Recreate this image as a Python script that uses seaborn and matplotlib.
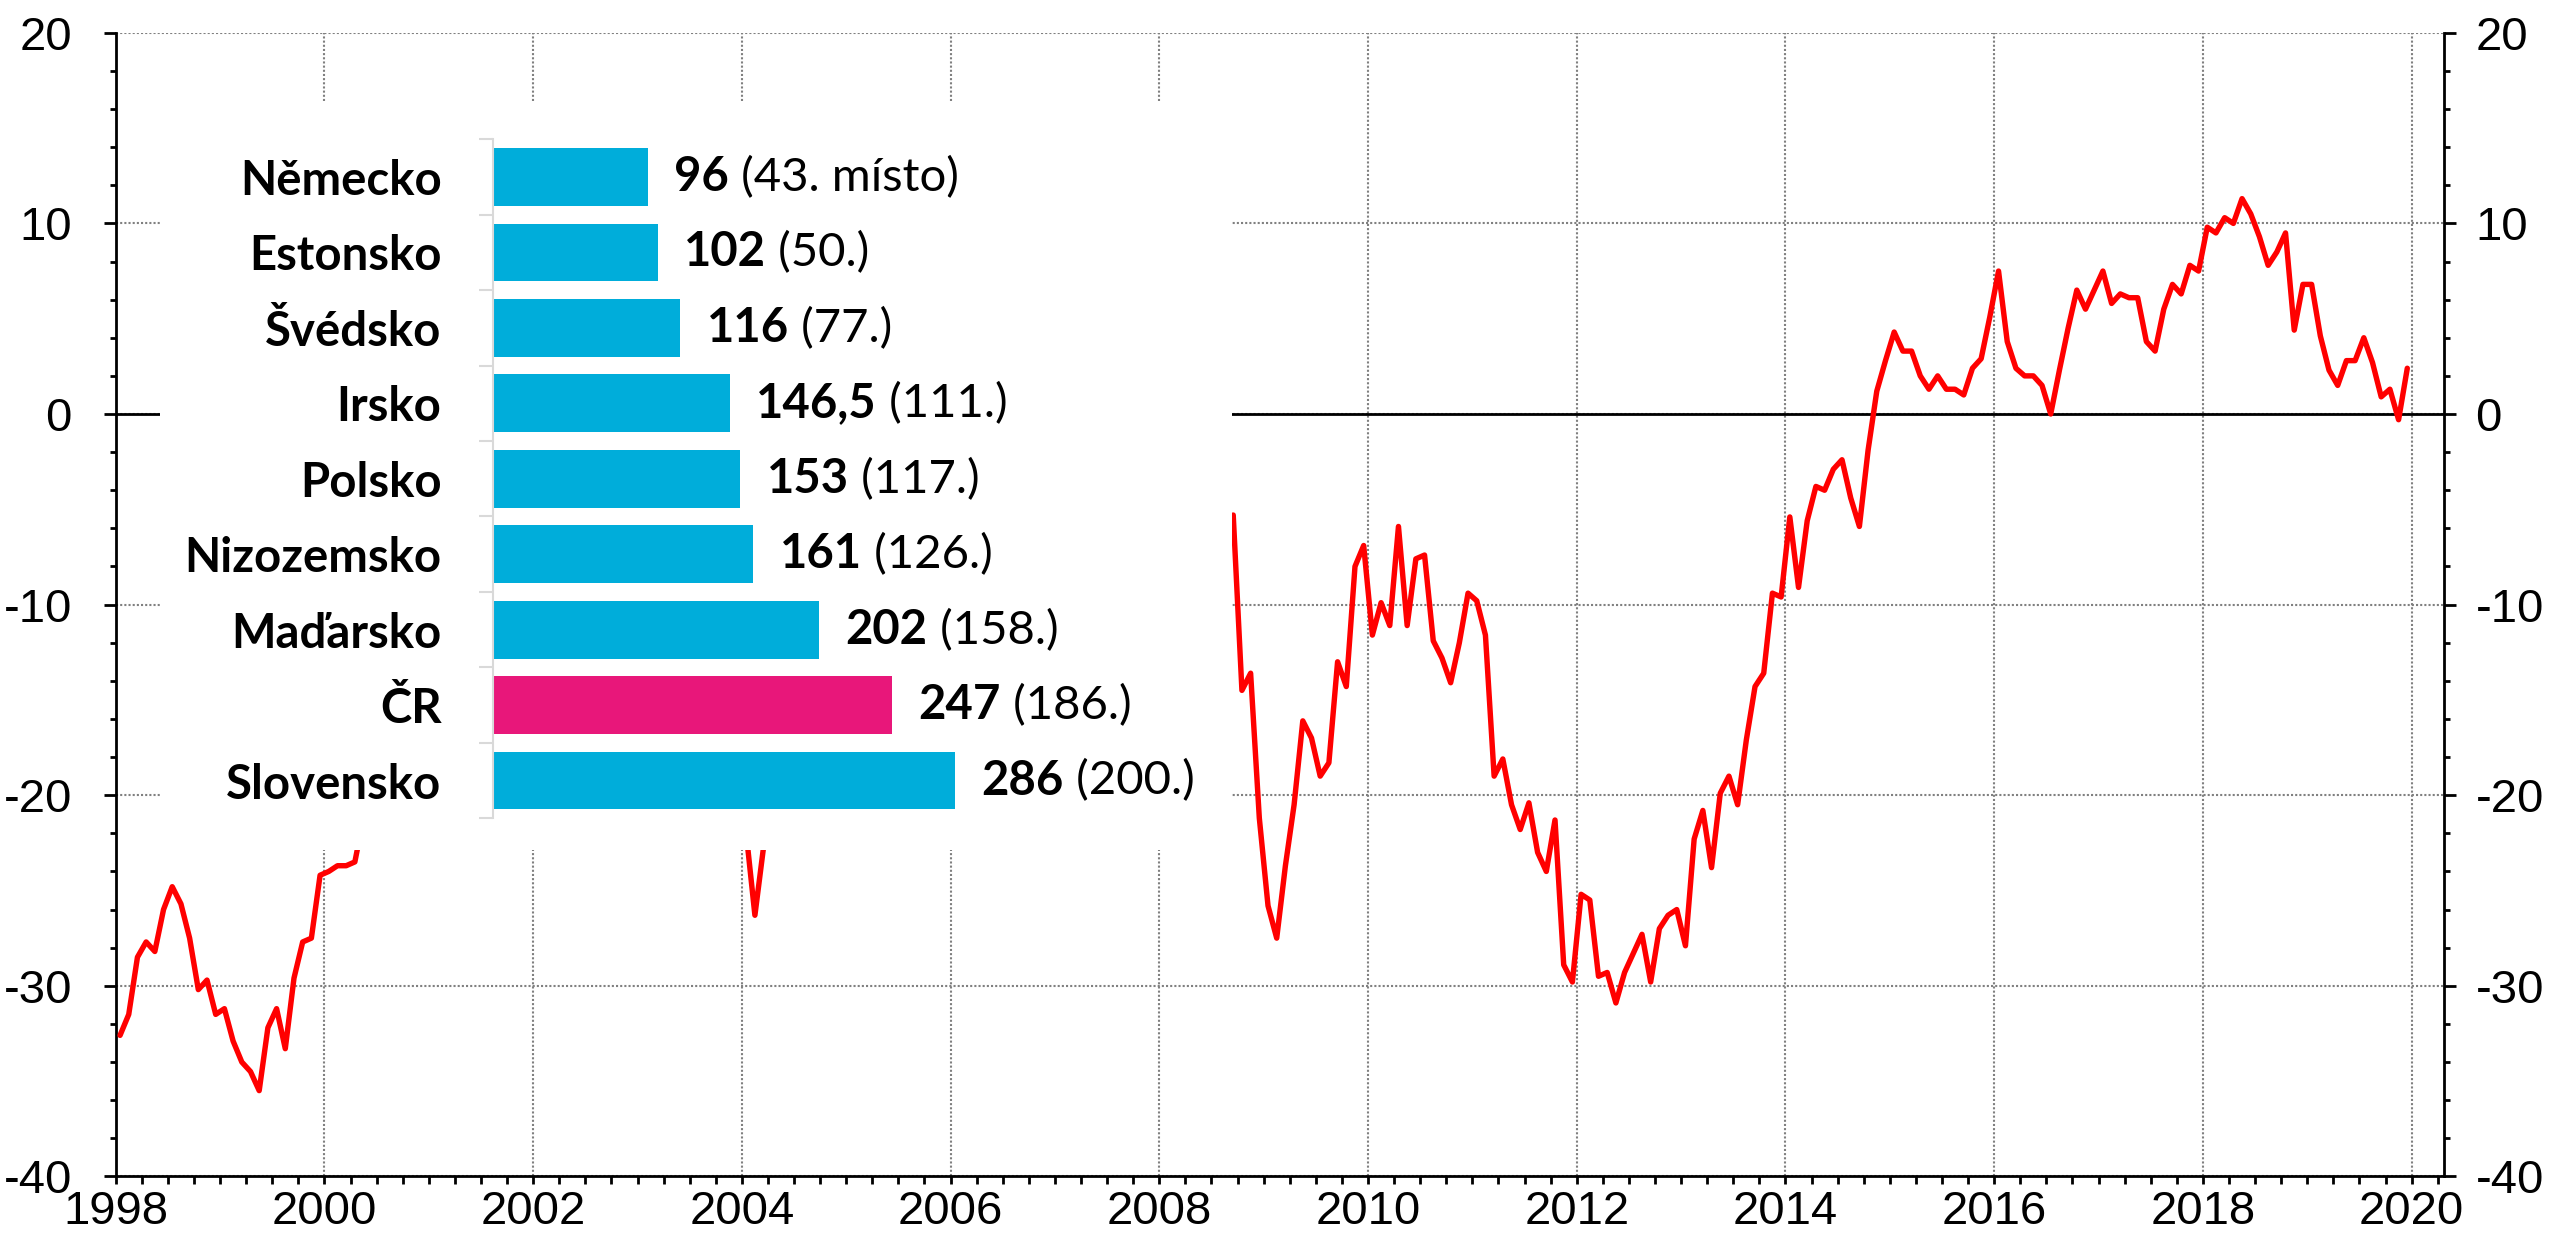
import numpy as np
import seaborn as sns
import matplotlib.pyplot as plt
from matplotlib.ticker import MultipleLocator

sns.set_theme(style='ticks', rc={
    'axes.edgecolor': 'black', 'xtick.color': 'black', 'ytick.color': 'black',
    'text.color': 'black', 'axes.labelcolor': 'black',
})
plt.rcParams['font.family'] = ['Liberation Sans', 'DejaVu Sans']
plt.rcParams['axes.unicode_minus'] = False

# ========================
# data
# ========================
# monthly series, Jan 1998 - Dec 2019 (the part behind the inset is only estimated)
saldo = [
    -32.6, -31.5, -28.5, -27.7, -28.2, -26.0, -24.8, -25.7, -27.5, -30.2, -29.7, -31.5,  # 1998
    -31.2, -32.9, -34.0, -34.5, -35.5, -32.2, -31.2, -33.3, -29.6, -27.7, -27.5, -24.2,  # 1999
    -24.0, -23.7, -23.7, -23.5, -21.2, -19.5, -18.0, -17.2, -16.5, -15.8, -16.4, -14.9,  # 2000
    -13.8, -14.5, -13.1, -12.6, -13.4, -12.0, -11.5, -12.8, -11.9, -10.8, -11.6, -12.4,  # 2001
    -11.0, -10.2, -11.3, -12.1, -12.9, -13.6, -12.7, -14.2, -15.0, -14.1, -15.8, -16.5,  # 2002
    -15.4, -16.9, -17.8, -17.0, -18.6, -19.3, -18.4, -19.9, -20.6, -19.8, -20.4, -21.3,  # 2003
    -22.0, -26.3, -22.7, -20.5, -18.9, -17.6, -16.8, -15.2, -14.6, -13.3, -13.9, -12.5,  # 2004
    -11.8, -12.6, -11.2, -10.4, -11.0, -9.8, -9.1, -9.9, -8.7, -8.2, -9.0, -8.4,  # 2005
    -7.6, -8.3, -7.1, -6.5, -7.2, -6.0, -5.4, -6.1, -5.0, -4.6, -5.3, -4.8,  # 2006
    -4.1, -4.9, -3.8, -4.5, -5.6, -4.9, -6.2, -7.0, -6.4, -7.5, -8.1, -7.3,  # 2007
    -8.6, -9.2, -8.0, -7.4, -6.8, -7.7, -6.3, -5.8, -5.3, -14.5, -13.6, -21.2,  # 2008
    -25.8, -27.5, -23.7, -20.5, -16.1, -17.0, -19.0, -18.3, -13.0, -14.3, -8.0, -6.9,  # 2009
    -11.6, -9.9, -11.1, -5.9, -11.1, -7.6, -7.4, -11.9, -12.8, -14.1, -12.0, -9.4,  # 2010
    -9.8, -11.6, -19.0, -18.1, -20.5, -21.8, -20.4, -23.0, -24.0, -21.3, -28.9, -29.8,  # 2011
    -25.2, -25.5, -29.5, -29.3, -30.9, -29.3, -28.3, -27.3, -29.8, -27.0, -26.3, -26.0,  # 2012
    -27.9, -22.3, -20.8, -23.8, -19.9, -19.0, -20.5, -17.1, -14.3, -13.6, -9.4, -9.6,  # 2013
    -5.4, -9.1, -5.6, -3.8, -4.0, -2.9, -2.4, -4.4, -5.9, -1.9, 1.2, 2.8,  # 2014
    4.3, 3.3, 3.3, 2.0, 1.3, 2.0, 1.3, 1.3, 1.0, 2.4, 2.9, 5.1,  # 2015
    7.5, 3.8, 2.4, 2.0, 2.0, 1.5, 0.0, 2.3, 4.5, 6.5, 5.5, 6.5,  # 2016
    7.5, 5.8, 6.3, 6.1, 6.1, 3.8, 3.3, 5.5, 6.8, 6.3, 7.8, 7.5,  # 2017
    9.8, 9.5, 10.3, 10.0, 11.3, 10.5, 9.3, 7.8, 8.5, 9.5, 4.4, 6.8,  # 2018
    6.8, 4.1, 2.3, 1.5, 2.8, 2.8, 4.0, 2.7, 0.9, 1.3, -0.3, 2.4,  # 2019
]
roky = 1998 + (np.arange(len(saldo)) + 0.5) / 12

zeme = ['Německo', 'Estonsko', 'Švédsko', 'Irsko', 'Polsko', 'Nizozemsko',
        'Maďarsko', 'ČR', 'Slovensko']
hodiny = [96, 102, 116, 146.5, 153, 161, 202, 247, 286]
poradi = ['(43. místo)', '(50.)', '(77.)', '(111.)', '(117.)', '(126.)',
          '(158.)', '(186.)', '(200.)']
barvy = ['#00ADDA'] * 7 + ['#E8177A', '#00ADDA']

W, H = 2552, 1236
fig = plt.figure(figsize=(W / 100, H / 100), dpi=100)

# ========================
# main line chart
# ========================
ax = fig.add_axes([115.7 / W, 1 - 1176.4 / H, (2444.3 - 115.7) / W, (1176.4 - 32.8) / H])
sns.lineplot(x=roky, y=saldo, color='#FF0000', lw=3.9, ax=ax, zorder=3)
ax.axhline(0, color='black', lw=2, zorder=2)

ax.set_xlim(1998, 2020.313)
ax.set_ylim(-40, 20)
ax.xaxis.set_major_locator(MultipleLocator(2))
ax.xaxis.set_minor_locator(MultipleLocator(0.25))
ax.yaxis.set_major_locator(MultipleLocator(10))
ax.yaxis.set_minor_locator(MultipleLocator(2))
ax.xaxis.set_major_formatter(lambda v, p: f'{v:.0f}')
ax.yaxis.set_major_formatter(lambda v, p: f'{v:.0f}')
ax.grid(True, which='major', color='#808080', lw=1.5, ls=(0, (1, 1)))

ax.spines['top'].set_visible(False)
for s in ['left', 'bottom']:
    ax.spines[s].set_visible(True)
    ax.spines[s].set_linewidth(2)
    ax.spines[s].set_color('black')
ax.spines['right'].set_visible(False)

ax.tick_params(axis='both', which='both', direction='out', width=2, labelsize=34)
ax.tick_params(axis='y', which='major', length=8.5, pad=23)
ax.tick_params(axis='y', which='minor', length=4.3)
ax.tick_params(axis='x', which='major', length=6, pad=4)
ax.tick_params(axis='x', which='minor', length=6)

# right-hand axis with the same scale
ax2 = ax.twinx()
ax2.set_ylim(ax.get_ylim())
ax2.yaxis.set_major_locator(MultipleLocator(10))
ax2.yaxis.set_minor_locator(MultipleLocator(2))
ax2.yaxis.set_major_formatter(lambda v, p: f'{v:.0f}')
for s in ['top', 'left', 'bottom']:
    ax2.spines[s].set_visible(False)
ax2.spines['right'].set_visible(True)
ax2.spines['right'].set_linewidth(2)
ax2.spines['right'].set_color('black')
ax2.grid(False)
ax2.tick_params(axis='y', which='both', direction='out', width=2, labelsize=34)
ax2.tick_params(axis='y', which='major', length=8.5, pad=14)
ax2.tick_params(axis='y', which='minor', length=4.3)

# ========================
# inset bar chart
# ========================
ax_in = fig.add_axes([160 / W, 1 - 850 / H, (1232 - 160) / W, (850 - 103) / H])
ax_in.set_zorder(5)
ax_in.set_facecolor('white')
sns.barplot(x=hodiny, y=zeme, hue=zeme, palette=barvy, legend=False, orient='h',
            width=0.765, saturation=1, linewidth=0, ax=ax_in)
ax_in.set_xlim(-206.1, 457.4)
ax_in.set_ylim(8.92, -0.98)
ax_in.set_xlabel('')
ax_in.set_ylabel('')
ax_in.set_xticks([])
for s in ['top', 'right', 'bottom']:
    ax_in.spines[s].set_visible(False)
ax_in.spines['left'].set_position(('data', 0))
ax_in.spines['left'].set_bounds(-0.5, 8.5)
ax_in.spines['left'].set_color('#D9D9D9')
ax_in.spines['left'].set_linewidth(1.5)
ax_in.set_yticks(np.arange(-0.5, len(zeme)), minor=True)
ax_in.tick_params(axis='y', which='major', length=0, pad=37, labelsize=34)
ax_in.tick_params(axis='y', which='minor', length=10, width=1.5, color='#D9D9D9')
for lbl in ax_in.get_yticklabels():
    lbl.set_fontweight('bold')
    lbl.set_family(['Lato', 'DejaVu Sans'])

for i, (h, p) in enumerate(zip(hodiny, poradi)):
    cislo = f'{h:g}'.replace('.', ',')
    t1 = ax_in.annotate(cislo, xy=(h, i), xytext=(19, 0), textcoords='offset points',
                        ha='left', va='center', fontsize=34, fontweight='bold',
                        family=['Lato', 'DejaVu Sans'])
    ax_in.annotate(' ' + p, xy=(1, 0), xycoords=t1, ha='left', va='bottom',
                   fontsize=34, family=['Lato', 'DejaVu Sans'])

fig.savefig('out.png', dpi=100)
